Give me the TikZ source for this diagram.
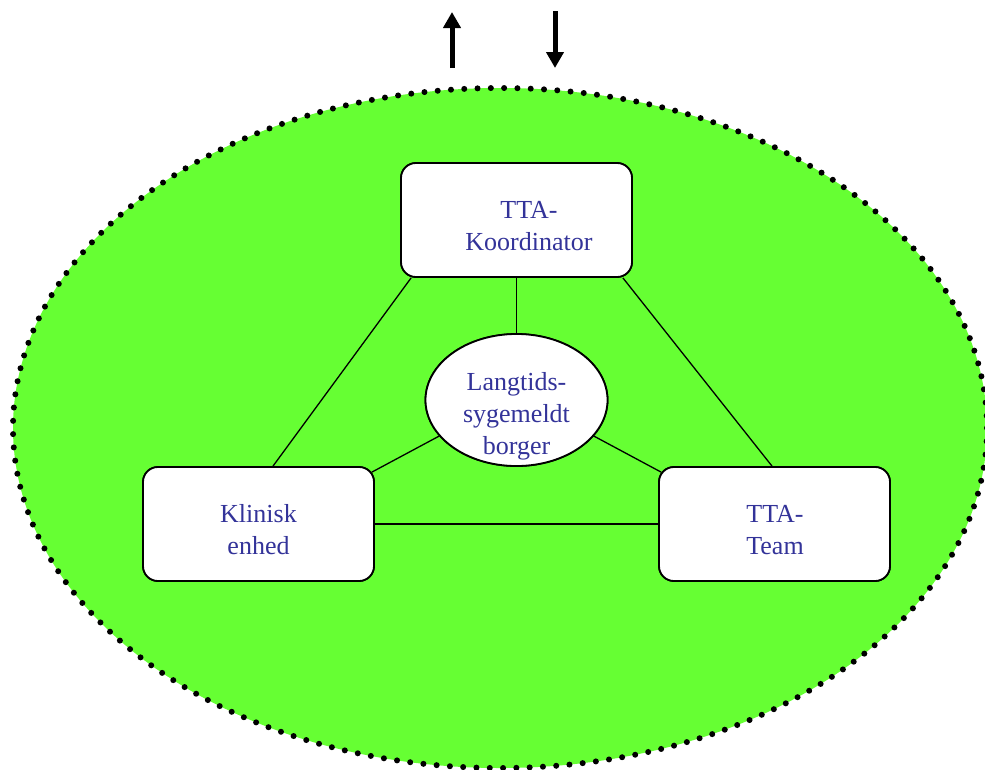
\documentclass[tikz,border=0pt]{standalone}
\usepackage{fontspec}
\setmainfont{Liberation Serif}
\usetikzlibrary{arrows.meta,shapes.geometric}
\definecolor{bggreen}{RGB}{102,255,51}
\definecolor{txtblue}{RGB}{51,51,153}
\tikzset{
  box/.style={draw=black, line width=1.8pt, fill=white, rounded corners=15pt,
    minimum width=231pt, minimum height=114pt, inner sep=0pt},
  oval/.style={ellipse, draw=black, line width=1.8pt, fill=white,
    minimum width=182pt, minimum height=132pt, inner sep=0pt},
  lbl/.style={text=txtblue, align=center, inner sep=0pt,
    font=\fontsize{26pt}{32pt}\selectfont},
  link/.style={draw=black, line width=1.3pt},
  bigarrow/.style={draw=black, line width=5pt, -{Triangle[width=17pt,length=16pt]}}
}
\begin{document}
\begin{tikzpicture}[x=1pt,y=-1pt]
\useasboundingbox (0,0) rectangle (985,769);
\begin{scope}
  \clip (0,0) rectangle (985,769);
  \fill[bggreen] (500,428) ellipse [x radius=487, y radius=340];
  \draw[line width=6pt, line cap=round, dash pattern=on 0pt off 13.3pt]
    (500,428) ellipse [x radius=487, y radius=340];
\end{scope}

% arrows at the top
\coordinate (upS) at (452,68);
\coordinate (upE) at (452,12);
\coordinate (dnS) at (555,11);
\coordinate (dnE) at (555,68);
\draw[bigarrow] (upS) -- (upE);
\draw[bigarrow] (dnS) -- (dnE);

% nodes
\node[box] (ko) at (516.5,220) {};
\node[box] (kl) at (258.5,524) {};
\node[box] (te) at (774.5,524) {};
\node[oval] (lb) at (516.5,400) {};

% connectors
\draw[link] (ko.south) -- (lb.north);
\draw[link] ([xshift=11pt]ko.south west) -- ([xshift=14.5pt]kl.north);
\draw[link] ([xshift=-10pt]ko.south east) -- ([xshift=-2.5pt]te.north);
\draw[link] (lb.205) -- ([xshift=-3pt,yshift=-6pt]kl.north east);
\draw[link] (lb.335) -- ([xshift=3pt,yshift=-6pt]te.north west);
\draw[link] (kl.east) -- (te.west);

% redraw boxes on top of connector ends
\node[box] at (ko) {};
\node[box] at (kl) {};
\node[box] at (te) {};
\node[oval] at (lb) {};

% texts
\node[lbl] (kot) at (529,226.4) {TTA-\\Koordinator};
\node[lbl] (klt) at (258.5,530) {Klinisk\\enhed};
\node[lbl] (tet) at (775,530) {TTA-\\Team};
\node[lbl] (lbt) at (516.5,416) {Langtids-\\sygemeldt\\borger};
\end{tikzpicture}
\end{document}
